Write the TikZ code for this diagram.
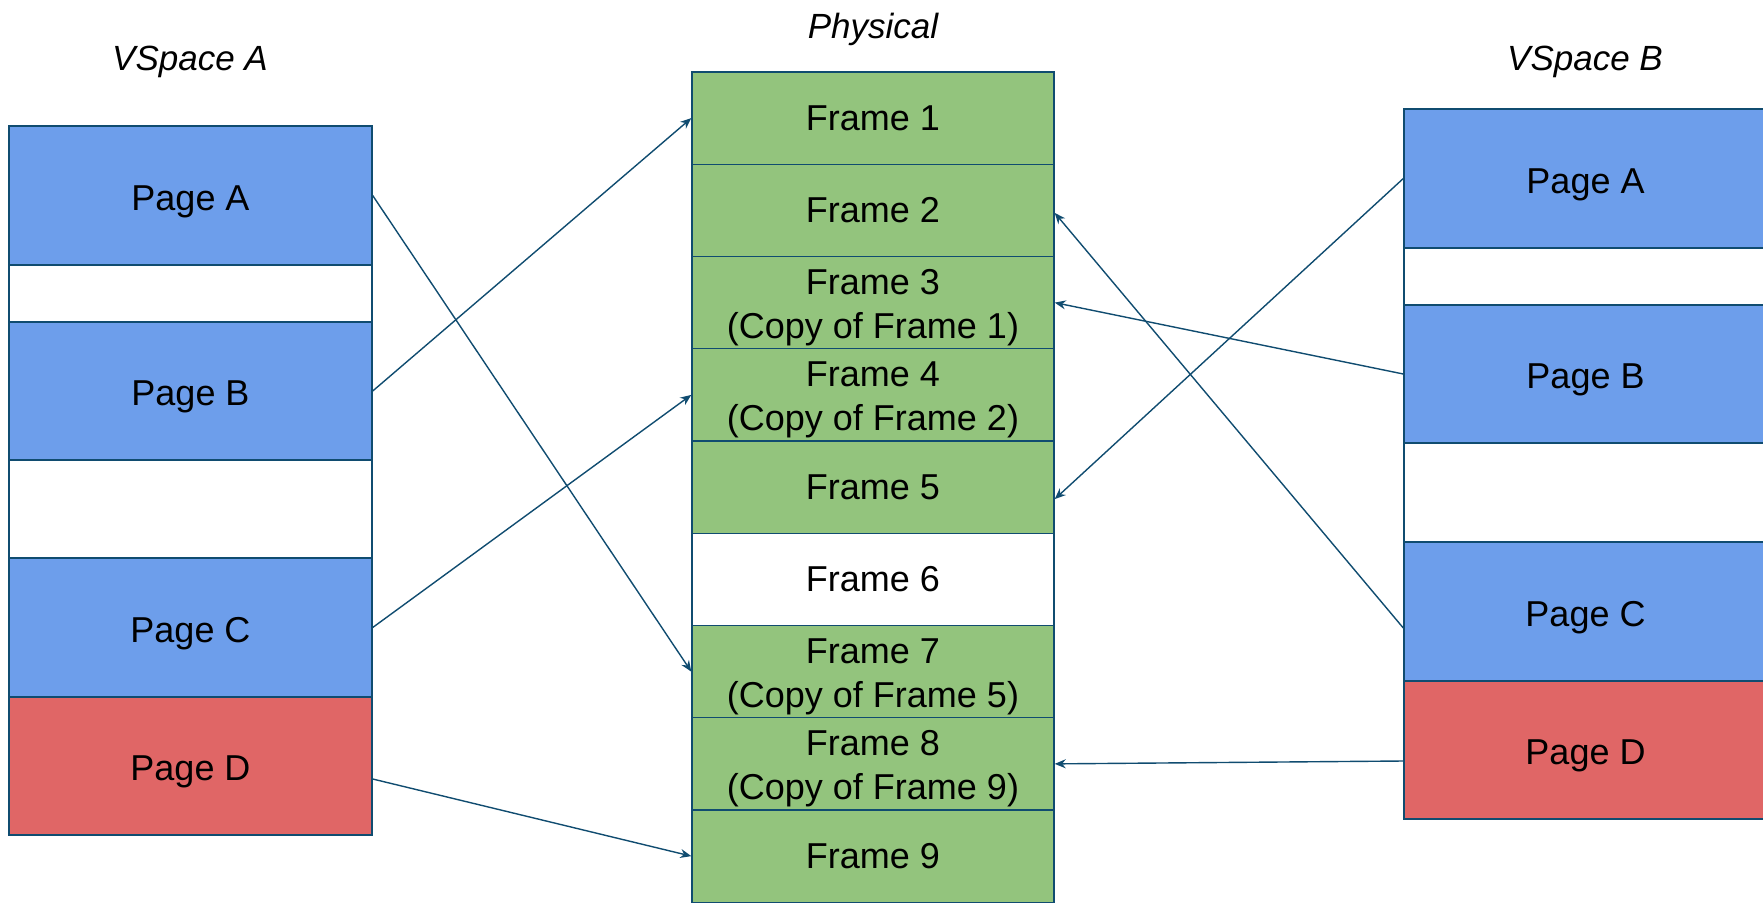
\documentclass[tikz,border=0pt]{standalone}
\usepackage{fontspec}
\setmainfont{Liberation Sans}
\usetikzlibrary{arrows.meta,calc}
\definecolor{edge}{RGB}{16,76,112}
\definecolor{pageblue}{HTML}{6D9EEB}
\definecolor{framegreen}{HTML}{93C47D}
\definecolor{pagered}{HTML}{E06666}
% tall strut that keeps two-line frame labels centred on their capitals
\newcommand{\capstrut}{\rule{0pt}{35pt}}
\begin{document}
\begin{tikzpicture}[x=1pt,y=-1pt,
  cell/.style={draw=edge,line width=1.4pt,inner sep=0pt,align=center,
    font=\fontsize{36}{44}\selectfont},
  vpage/.style={cell,minimum width=363pt,text height=29pt,text depth=0pt},
  frm/.style={cell,fill=framegreen,minimum width=362pt,minimum height=92.25pt},
  title/.style={font=\fontsize{35}{42}\selectfont\itshape},
  map/.style={draw=edge,line width=1.4pt,-{Stealth[length=11pt,width=9pt]}}]
\useasboundingbox (0,0) rectangle (1763,902);

% column titles
\node[title] (tA) at (190,62) {VSpace A};
\node[title] (tP) at (873,29) {Physical};
\node[title] (tB) at (1585,62) {VSpace B};

% virtual address space A
\node[vpage,fill=pageblue,minimum height=139pt] (la) at (190.5,195.5) {Page A};
\node[vpage,minimum height=57pt] (lg1) at (190.5,293.5) {};
\node[vpage,fill=pageblue,minimum height=138pt] (lb) at (190.5,391) {Page B};
\node[vpage,minimum height=98pt] (lg2) at (190.5,509) {};
\node[vpage,fill=pageblue,minimum height=139pt] (lc) at (190.5,627.5) {Page C};
\node[vpage,fill=pagered,minimum height=138pt] (ld) at (190.5,766) {Page D};

% physical frames
\foreach \i/\txt/\fillc in {
  1/{Frame 1}/framegreen,
  2/{Frame 2}/framegreen,
  3/{\capstrut Frame 3\\(Copy of Frame 1)}/framegreen,
  4/{\capstrut Frame 4\\(Copy of Frame 2)}/framegreen,
  5/{Frame 5}/framegreen,
  6/{Frame 6}/white,
  7/{\capstrut Frame 7\\(Copy of Frame 5)}/framegreen,
  8/{\capstrut Frame 8\\(Copy of Frame 9)}/framegreen,
  9/{Frame 9}/framegreen}
  \node[frm,fill=\fillc] (f\i) at (873,{72+(\i-0.5)*92.25}) {\txt};

% virtual address space B
\node[vpage,fill=pageblue,minimum height=139pt] (ra) at (1585.5,178.5) {Page A};
\node[vpage,minimum height=57pt] (rg1) at (1585.5,276.5) {};
\node[vpage,fill=pageblue,minimum height=138pt] (rb) at (1585.5,374) {Page B};
\node[vpage,minimum height=99pt] (rg2) at (1585.5,492.5) {};
\node[vpage,fill=pageblue,minimum height=139pt] (rc) at (1585.5,611.5) {Page C};
\node[vpage,fill=pagered,minimum height=138pt] (rd) at (1585.5,750) {Page D};

% mappings from A
\draw[map] (la.east) -- (f7.west);
\draw[map] (lb.east) -- (f1.west);
\draw[map] (lc.east) -- (f4.west);
\draw[map] ($(ld.east)+(0,13)$) -- (f9.west);

% mappings from B
\draw[map] (ra.west) -- ($(f5.east)+(0,12)$);
\draw[map] (rb.west) -- (f3.east);
\draw[map] ($(rc.west)+(0,16.5)$) -- ($(f2.east)+(0,2.5)$);
\draw[map] ($(rd.west)+(0,11)$) -- (f8.east);
\end{tikzpicture}
\end{document}
